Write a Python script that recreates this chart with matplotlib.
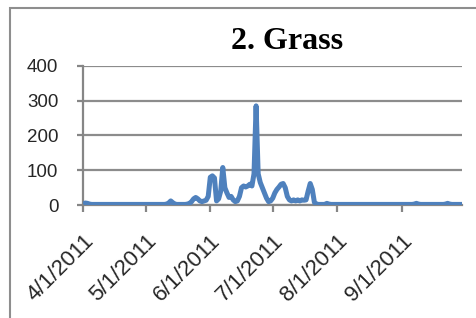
import datetime as dt
import matplotlib
matplotlib.use("Agg")
import matplotlib.pyplot as plt
import matplotlib.dates as mdates
from matplotlib.patches import Rectangle

# daily pollen counts, 4/1/2011 - 9/30/2011
april = [3, 6, 5, 3, 2, 2, 2, 2, 2, 2,
         2, 2, 2, 2, 2, 2, 2, 2, 2, 2,
         2, 2, 2, 2, 2, 2, 2, 2, 2, 2]
may = [2, 2, 2, 2, 2, 2, 2, 2, 2, 2,
       3, 6, 12, 7, 3, 2, 2, 2, 2, 2,
       3, 5, 10, 18, 22, 18, 12, 10, 12, 14,
       25]
june = [80, 84, 78, 12, 18, 40, 108, 50, 35, 22,
        25, 15, 10, 12, 25, 50, 55, 52, 55, 60,
        55, 90, 285, 90, 65, 50, 35, 20, 10, 12]
july = [20, 35, 45, 52, 60, 62, 50, 25, 15, 12,
        15, 12, 15, 12, 15, 14, 15, 40, 62, 45,
        8, 3, 2, 2, 2, 2, 5, 3, 2, 2,
        2]
august = [2, 2, 2, 2, 2, 2, 2, 2, 2, 2,
          2, 2, 2, 2, 2, 2, 2, 2, 2, 2,
          2, 2, 2, 2, 2, 2, 2, 2, 2, 2,
          2]
september = [2, 2, 2, 2, 2, 2, 3, 5, 3, 2,
             2, 2, 2, 2, 2, 2, 2, 2, 2, 2,
             2, 3, 5, 3, 2, 2, 2, 2, 2, 2]

counts = april + may + june + july + august + september
start = dt.date(2011, 4, 1)
dates = [start + dt.timedelta(days=i) for i in range(len(counts))]

month_ticks = [dt.date(2011, m, 1) for m in range(4, 10)]
yticks = [0, 100, 200, 300, 400]

fig = plt.figure(figsize=(4.76, 3.18), dpi=100)
ax = fig.add_axes([0.175, 0.355, 0.796, 0.438])

ax.plot(dates, counts, color="#4F81BD", lw=3.6, solid_joinstyle="round",
        solid_capstyle="butt", zorder=3)

ax.set_xlim(dt.date(2011, 4, 1), dt.date(2011, 9, 30))
ax.set_ylim(0, 400)
ax.set_yticks(yticks)
ax.set_xticks(month_ticks)
ax.xaxis.set_major_formatter(
    plt.FuncFormatter(lambda v, p: "%d/1/2011" % mdates.num2date(v).month))

ax.grid(axis="y", color="#8c8c8c", lw=1.6)
ax.set_axisbelow(True)
for s in ["top", "right"]:
    ax.spines[s].set_visible(False)
ax.spines["left"].set_color("#868686")
ax.spines["left"].set_linewidth(1.6)
ax.spines["bottom"].set_color("#868686")
ax.spines["bottom"].set_linewidth(1.6)

ax.tick_params(axis="y", length=4, width=1.6, color="#868686", pad=14,
               labelsize=13.5, labelcolor="#262626")
ax.tick_params(axis="x", length=5, width=1.6, color="#868686", pad=13,
               labelsize=16, labelcolor="#262626")
for lab in ax.get_yticklabels() + ax.get_xticklabels():
    lab.set_family("Liberation Sans")
for lab in ax.get_xticklabels():
    lab.set_rotation(45)
    lab.set_ha("right")
    lab.set_va("top")
    lab.set_rotation_mode("anchor")

fig.text(0.603, 0.845, "2. Grass", family="Liberation Serif", weight="bold",
         fontsize=23, ha="center", va="baseline")

# outer chart border (only left/top visible)
fig.patches.append(Rectangle((10 / 476, -0.5), 2, 1.5 - 8 / 318, fill=False,
                             ec="#8e8e8e", lw=1.5, transform=fig.transFigure))

fig.savefig("out.png", dpi=100)
